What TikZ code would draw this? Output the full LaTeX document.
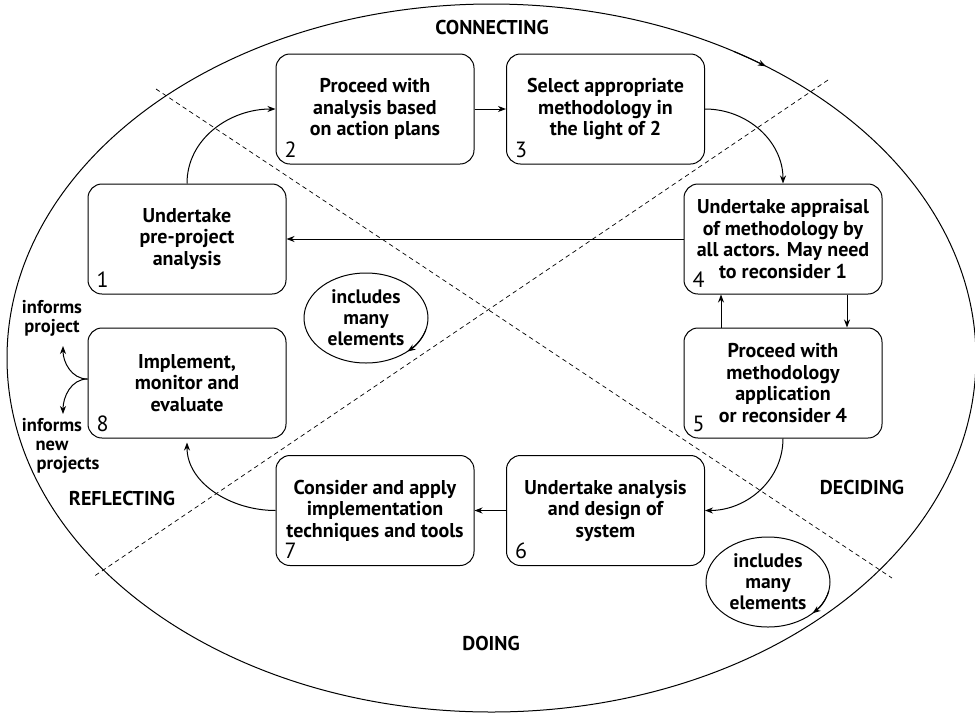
\documentclass[tikz,border=0pt]{standalone}
\usepackage{fontspec}
\setmainfont{PT Sans}
\usetikzlibrary{arrows.meta,shapes.geometric}

\begin{document}
\begin{tikzpicture}[x=1pt,y=1pt,line width=1pt,
  arr/.style={-{Stealth[length=8pt,width=6pt,inset=2.5pt]}},
  stagebox/.style={draw, rounded corners=14pt, minimum width=198pt, minimum height=110pt,
    inner sep=0pt, align=center, font=\bfseries\fontsize{20}{21.5}\selectfont},
  stagenum/.style={inner sep=0pt, font=\fontsize{22}{22}\selectfont},
  bubble/.style={draw, ellipse, minimum width=124pt, minimum height=90pt, inner sep=0pt,
    align=center, font=\bfseries\fontsize{19.5}{21}\selectfont},
  quadrant/.style={font=\bfseries\fontsize{20}{22}\selectfont},
  sidenote/.style={align=center, inner sep=0pt, font=\bfseries\fontsize{18.5}{19}\selectfont},
  divider/.style={line width=0.7pt, dash pattern=on 4.5pt off 3.5pt}]

\useasboundingbox (0,0) rectangle (975,-713);

% outer cycle
\coordinate (cyc) at (491.5,-358);
\draw (cyc) ellipse [x radius=484.5, y radius=354];
\draw[arr] (cyc) ++(60:484.5 and 354) arc[start angle=60, end angle=55.5, x radius=484.5, y radius=354];

% quadrant dividers
\coordinate (dA1) at (156,-89);
\coordinate (dA2) at (892,-578);
\coordinate (dB1) at (828,-80);
\coordinate (dB2) at (93,-577);
\draw[divider] (dA1) -- (dA2);
\draw[divider] (dB1) -- (dB2);

% quadrant names
\node[quadrant] (qc) at (492,-27) {CONNECTING};
\node[quadrant] (qd) at (862,-487) {DECIDING};
\node[quadrant] (qo) at (491,-643) {DOING};
\node[quadrant] (qr) at (122,-498) {REFLECTING};

% stages
\node[stagebox] (b1) at (187,-239) {Undertake\\pre-project\\analysis};
\node[stagebox] (b2) at (375,-109) {Proceed with\\analysis based\\on action plans};
\node[stagebox] (b3) at (605.5,-109) {Select appropriate\\methodology in\\the light of 2};
\node[stagebox] (b4) at (783,-239) {Undertake appraisal\\of methodology by\\all actors. May need\\to reconsider 1};
\node[stagebox] (b5) at (783,-383) {Proceed with\\methodology\\application\\or reconsider 4};
\node[stagebox] (b6) at (605.5,-510.5) {Undertake analysis\\and design of\\system};
\node[stagebox] (b7) at (375,-510.5) {Consider and apply\\implementation\\techniques and tools};
\node[stagebox] (b8) at (187,-383) {Implement,\\monitor and\\evaluate};

% stage numbers
\foreach \i in {1,...,8}
  \node[stagenum] (n\i) at ([shift={(15,15)}]b\i.south west) {\i};

% flow between stages
\draw[arr] (b1.north) to[out=90, in=180] (b2.west);
\draw[arr] (b2.east) -- (b3.west);
\draw[arr] (b3.east) to[out=0, in=90] (b4.north);
\draw[arr] (b4.west) -- (b1.east);
\draw[arr] ([xshift=64pt]b4.south) -- ([xshift=64pt]b5.north);
\draw[arr] ([xshift=-62pt]b5.north) -- ([xshift=-62pt]b4.south);
\draw[arr] (b5.south) to[out=-90, in=0] (b6.east);
\draw[arr] (b6.west) -- (b7.east);
\draw[arr, shorten >=4pt] (b7.west) to[out=180, in=-90] (b8.south);

% outputs of stage 8
\node[sidenote] (ip) at (52,-318) {informs\\project};
\node[sidenote] (inp) at (52,-446) {informs\\new\\\hspace*{32pt}projects};
\coordinate (ipt) at (63,-346);
\coordinate (inpt) at (63,-414);
\draw[arr] ([yshift=4pt]b8.west) to[out=180, in=-90] (ipt);
\draw[arr] ([yshift=4pt]b8.west) to[out=180, in=90] (inpt);

% element bubbles
\node[bubble] (e1) at (366,-318) {includes\\many\\elements};
\draw[arr] (e1.center) ++(-15:62 and 45) arc[start angle=-15, end angle=-48, x radius=62, y radius=45];
\node[bubble] (e2) at (768,-582) {includes\\many\\elements};
\draw[arr] (e2.center) ++(-12:62 and 45) arc[start angle=-12, end angle=-44, x radius=62, y radius=45];

\end{tikzpicture}
\end{document}
